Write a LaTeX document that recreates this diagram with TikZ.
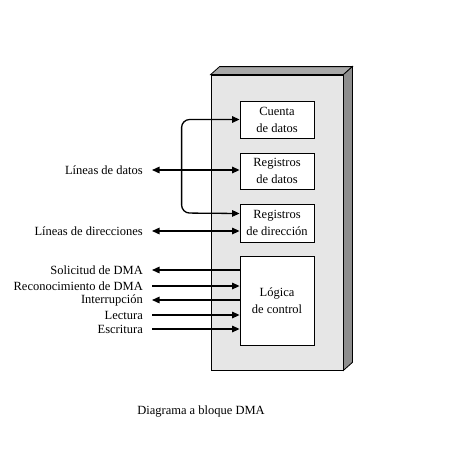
\documentclass[tikz,border=0pt]{standalone}
\usepackage{fontspec}
\setmainfont{Liberation Serif}
\usetikzlibrary{arrows.meta}
\definecolor{frontgray}{HTML}{E6E6E6}
\definecolor{topgray}{HTML}{A8A8A8}
\definecolor{sidegray}{HTML}{8E8E8E}
\begin{document}
\begin{tikzpicture}[
x=1pt, y=-1pt,
font=\fontsize{12.5}{17}\selectfont,
unit/.style={draw=black, line width=0.8pt, fill=white, align=center, minimum width=74pt, minimum height=37pt, inner sep=1pt},
signal/.style={anchor=east, inner sep=0pt},
arrow/.style={-{Triangle[length=7.5pt,width=6.5pt]}, line width=1.3pt},
both/.style={{Triangle[length=7.5pt,width=6.5pt]}-{Triangle[length=7.5pt,width=6.5pt]}, line width=1.3pt}
]
\useasboundingbox (0,0) rectangle (449,448);

\node[draw=black, line width=0.8pt, fill=frontgray, minimum width=132pt, minimum height=295pt, inner sep=0pt] (dma) at (277,222.5) {};
\draw[line width=0.8pt, fill=topgray] (dma.north west) -- ([shift={(9,-8)}]dma.north west) -- ([shift={(9,-8)}]dma.north east) -- (dma.north east) -- cycle;
\draw[line width=0.8pt, fill=sidegray] (dma.north east) -- ([shift={(9,-8)}]dma.north east) -- ([shift={(9,-8)}]dma.south east) -- (dma.south east) -- cycle;

\node[unit] (cta) at (277,119.5) {Cuenta\\de datos};
\node[unit, minimum height=36pt] (rdat) at (277,171) {Registros\\de datos};
\node[unit, minimum height=38pt] (rdir) at (277,223) {Registros\\de dirección};
\node[unit, minimum height=89pt] (log) at (277,300.5) {Lógica\\de control};

\node[signal] (ldat) at (143,170) {Líneas de datos};
\node[signal] (ldir) at (143,231) {Líneas de direcciones};
\node[signal] (sol) at (143,270) {Solicitud de DMA};
\node[signal] (rec) at (143,286) {Reconocimiento de DMA};
\node[signal] (intr) at (143,300) {Interrupción};
\node[signal] (lec) at (143,315) {Lectura};
\node[signal] (esc) at (143,329) {Escritura};

\draw[both] ([xshift=9pt]ldat.east) -- (rdat.west |- ldat.east);
\draw[both] ([xshift=9pt]ldir.east) -- (rdir.west |- ldir.east);
\draw[both, rounded corners=8pt] (cta.west) -- ++(-58,0) -- ++(0,93.5) -- ([yshift=9.5pt]rdir.west);

\draw[arrow] (log.west |- sol.east) -- ([xshift=9pt]sol.east);
\draw[arrow] ([xshift=9pt]rec.east) -- (log.west |- rec.east);
\draw[arrow] (log.west |- intr.east) -- ([xshift=9pt]intr.east);
\draw[arrow] ([xshift=9pt]lec.east) -- (log.west |- lec.east);
\draw[arrow] ([xshift=9pt]esc.east) -- (log.west |- esc.east);

\node (cap) at (201,412) {Diagrama a bloque DMA};
\end{tikzpicture}
\end{document}
